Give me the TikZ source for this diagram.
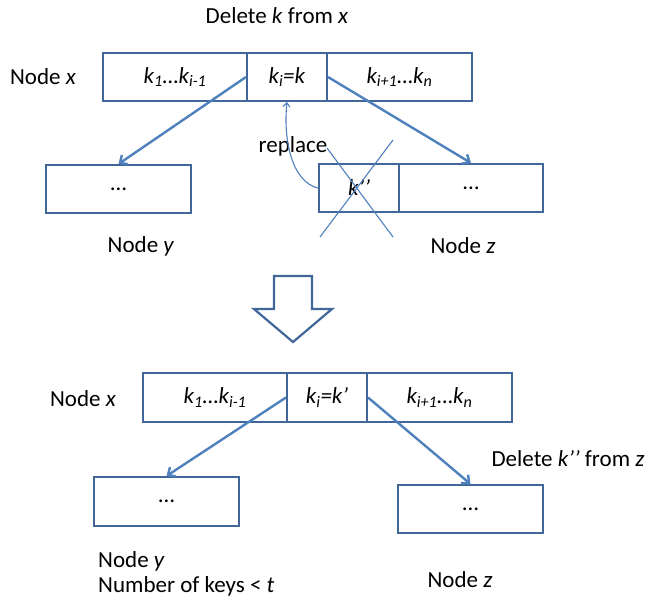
\documentclass[tikz,border=0pt]{standalone}
\usepackage{fontspec}
\setmainfont{Carlito}
\usetikzlibrary{arrows.meta}
\definecolor{boxblue}{HTML}{41679A}
\definecolor{lineblue}{HTML}{4F81BD}
\tikzset{
  cell/.style={draw=boxblue, line width=2pt, minimum height=48pt, inner sep=0pt, anchor=center, fill=white},
  lbl/.style={inner sep=0pt, anchor=center},
  bold/.style={draw=lineblue, line width=2.4pt, -{Straight Barb[length=6pt,width=11pt,line width=2.4pt]}},
  thin/.style={draw=lineblue, line width=1.1pt},
}
\begin{document}
\begin{tikzpicture}[x=1pt,y=-1pt,font=\fontsize{23}{25}\selectfont]
\useasboundingbox (0,0) rectangle (649,606);
\fill[white] (0,0) rectangle (649,606);

% ---------- top part ----------
\node[lbl] (title) at (277,16) {Delete \textit{k} from \textit{x}};
\node[lbl] (nx) at (43,77) {Node \textit{x}};
\node[cell, minimum width=144pt] (c1) at (175,77) {\textit{k\textsubscript{1}…k\textsubscript{i-1}}};
\node[cell, minimum width=80pt] (c2) at (287,77) {\textit{k\textsubscript{i}=k}};
\node[cell, minimum width=145pt] (c3) at (399.5,77) {\textit{k\textsubscript{i+1}…k\textsubscript{n}}};

\node[cell, minimum width=145pt] (ya) at (118.5,189) {…};
\node[cell, minimum width=80pt] (za) at (359,188) {\textit{k’’}};
\node[cell, minimum width=144pt] (zb) at (471,188) {…};

\node[lbl] (nya) at (141,246) {Node \textit{y}};
\node[lbl] (nza) at (463,246) {Node \textit{z}};
\node[lbl] (rep) at (293,146) {replace};

\draw[bold] (c2.west) -- (ya.north);
\draw[bold] (c2.east) -- (zb.north);
\draw[thin, -{Straight Barb[length=4pt,width=7pt,line width=1.1pt]}] (za.west) .. controls (292,182) and (283,140) .. (c2.south);

\coordinate (xa1) at (327,148);
\coordinate (xa2) at (393,237);
\coordinate (xb1) at (393,140);
\coordinate (xb2) at (320,237);
\draw[thin] (xa1) -- (xa2);
\draw[thin] (xb1) -- (xb2);

% ---------- big arrow ----------
\draw[boxblue, line width=2.2pt, fill=white, line join=miter]
  (274,276) -- (312,276) -- (312,309) -- (332,309) -- (293,342) -- (254,309) -- (274,309) -- cycle;

% ---------- bottom part ----------
\node[lbl] (nxb) at (83,399) {Node \textit{x}};
\node[cell, minimum width=144pt, minimum height=49pt] (d1) at (215,397.5) {\textit{k\textsubscript{1}…k\textsubscript{i-1}}};
\node[cell, minimum width=80pt, minimum height=49pt] (d2) at (327,397.5) {\textit{k\textsubscript{i}=k’}};
\node[cell, minimum width=145pt, minimum height=49pt] (d3) at (439.5,397.5) {\textit{k\textsubscript{i+1}…k\textsubscript{n}}};

\node[cell, minimum width=145pt, minimum height=49pt] (yb) at (166.5,501.5) {…};
\node[cell, minimum width=145pt] (zc) at (470.5,509) {…};

\draw[bold] (d2.west) -- (yb.north);
\draw[bold] (d2.east) -- (zc.north);

\node[lbl] (delz) at (568,459) {Delete \textit{k’’} from \textit{z}};
\node[lbl, anchor=west, align=left] (nyb) at (98,574) {Node \textit{y}\\Number of keys < \textit{t}};
\node[lbl] (nzb) at (460,580) {Node \textit{z}};
\end{tikzpicture}
\end{document}
